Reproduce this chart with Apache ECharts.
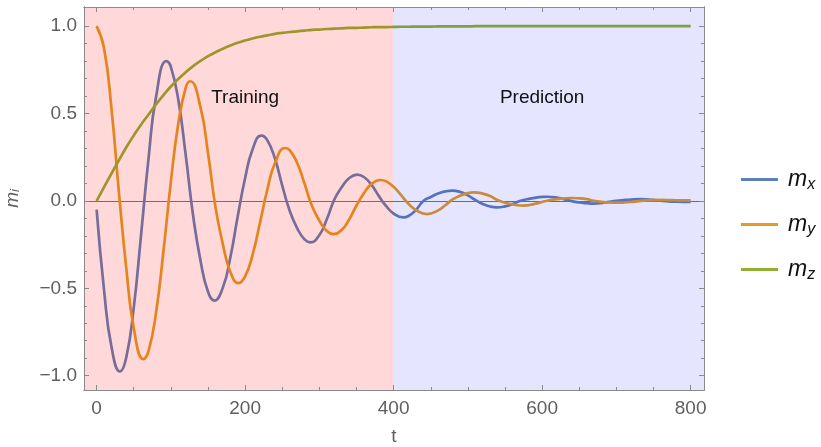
<!DOCTYPE html>
<html lang="en">
<head>
    <meta charset="UTF-8">
    <title>m_i vs t</title>
    <script src="https://cdn.jsdelivr.net/npm/echarts@6/dist/echarts.min.js"></script>
    <style>
        html, body { margin: 0; padding: 0; background: #fff; }
    </style>
</head>
<body>
    <div id="main" style="width: 821px;height:447px;"></div>
    <script type="text/javascript">
        // m_x samples (t, value), extrema included
        const mxT = [0, 10, 20, 31.5, 40, 50, 60, 70, 80, 94,
            100, 110, 120, 130, 140, 150, 158.5, 170, 180, 190,
            200, 210, 222, 230, 240, 250, 260, 270, 280, 288,
            300, 310, 320, 330, 340, 351, 360, 370, 380, 390,
            400, 413, 420, 430, 440, 450, 460, 470, 479, 490,
            500, 510, 520, 530, 539, 550, 560, 570, 580, 590,
            600, 607, 620, 630, 640, 650, 660, 669, 680, 690,
            700, 710, 720, 732, 740, 750, 760, 770, 780, 790, 800];
        const mxValues = [-0.05, -0.51, -0.835, -0.976, -0.895, -0.611, -0.188, 0.247, 0.595, 0.80,
            0.767, 0.579, 0.262, -0.085, -0.344, -0.52, -0.57, -0.496, -0.325, -0.089,
            0.131, 0.295, 0.374, 0.347, 0.245, 0.088, -0.056, -0.155, -0.22, -0.237,
            -0.195, -0.105, 0.007, 0.078, 0.13, 0.151, 0.137, 0.093, 0.029, -0.03,
            -0.072, -0.094, -0.086, -0.052, 0.0, 0.023, 0.043, 0.055, 0.059, 0.051,
            0.032, 0.006, -0.017, -0.032, -0.037, -0.031, -0.018, 0.0, 0.01, 0.018,
            0.023, 0.024, 0.019, 0.009, -0.001, -0.009, -0.013, -0.015, -0.012, -0.005,
            0.001, 0.005, 0.008, 0.01, 0.009, 0.006, 0.002, -0.002, -0.004, -0.005, -0.005];

        // m_y samples
        const myT = [0, 10, 20, 30, 40, 50, 63, 70, 80, 90,
            100, 110, 120, 126, 140, 150, 160, 170, 180, 191,
            200, 210, 220, 230, 240, 254, 260, 270, 280, 290,
            300, 310, 319, 330, 340, 350, 360, 370, 382, 390,
            400, 410, 420, 430, 445, 460, 470, 480, 490, 500,
            508, 520, 530, 540, 550, 560, 575, 590, 600, 610,
            620, 630, 640, 650, 660, 670, 680, 690, 701, 710,
            720, 730, 740, 750, 763, 770, 780, 790, 800];
        const myValues = [1.0, 0.874, 0.529, 0.051, -0.387, -0.727, -0.905, -0.858, -0.64, -0.288,
            0.111, 0.443, 0.649, 0.685, 0.534, 0.274, -0.034, -0.248, -0.405, -0.47,
            -0.432, -0.309, -0.125, 0.067, 0.214, 0.303, 0.291, 0.219, 0.099, -0.028,
            -0.113, -0.172, -0.19, -0.166, -0.107, -0.026, 0.044, 0.096, 0.12, 0.112,
            0.081, 0.033, -0.016, -0.052, -0.075, -0.054, -0.023, 0.01, 0.031, 0.045,
            0.049, 0.042, 0.028, 0.005, -0.01, -0.02, -0.027, -0.017, -0.006, 0.004,
            0.01, 0.015, 0.017, 0.015, 0.01, 0.001, -0.005, -0.009, -0.01, -0.009,
            -0.006, -0.001, 0.003, 0.005, 0.006, 0.005, 0.004, 0.003, 0.003];

        // m_z samples (every 10)
        const mzT = [0, 10, 20, 30, 40, 50, 60, 70, 80, 90,
            100, 110, 120, 130, 140, 150, 160, 170, 180, 190,
            200, 210, 220, 230, 240, 250, 260, 270, 280, 290,
            300, 310, 320, 330, 340, 350, 360, 370, 380, 390,
            400, 410, 420, 430, 440, 450, 460, 470, 480, 490,
            500, 510, 520, 530, 540, 550, 560, 570, 580, 590,
            600, 610, 620, 630, 640, 650, 660, 670, 680, 690,
            700, 710, 720, 730, 740, 750, 760, 770, 780, 790, 800];
        const mzValues = [0.0, 0.079, 0.157, 0.233, 0.307, 0.375, 0.438, 0.495, 0.553, 0.606,
            0.655, 0.698, 0.737, 0.772, 0.802, 0.828, 0.851, 0.871, 0.889, 0.905,
            0.918, 0.93, 0.94, 0.948, 0.956, 0.962, 0.967, 0.971, 0.975, 0.979,
            0.981, 0.984, 0.986, 0.988, 0.99, 0.991, 0.992, 0.994, 0.995, 0.995,
            0.996, 0.997, 0.997, 0.998, 0.998, 0.998, 0.999, 0.999, 0.999, 0.999,
            0.999, 1.0, 1.0, 1.0, 1.0, 1.0, 1.0, 1.0, 1.0, 1.0,
            1.0, 1.0, 1.0, 1.0, 1.0, 1.0, 1.0, 1.0, 1.0, 1.0,
            1.0, 1.0, 1.0, 1.0, 1.0, 1.0, 1.0, 1.0, 1.0, 1.0, 1.0];

        const seriesNames = ['mx', 'my', 'mz'];
        const seriesColors = ['#5E81B5', '#E19C24', '#8FB032'];

        // tick labels / positions
        const xMajor = [0, 200, 400, 600, 800];
        const xMinor = [50, 100, 150, 250, 300, 350, 450, 500, 550, 650, 700, 750];
        const yMajor = [-1.0, -0.5, 0.0, 0.5, 1.0];
        const yMinor = [-0.9, -0.8, -0.7, -0.6, -0.4, -0.3, -0.2, -0.1,
            0.1, 0.2, 0.3, 0.4, 0.6, 0.7, 0.8, 0.9];

        const regionLabels = [['Training', 200, 0.59], ['Prediction', 600, 0.59]];

        const xMin = -17, xMax = 818, yMin = -1.082, yMax = 1.11;
        const frameColor = '#8a8a8a';
        const labelColor = '#5f5f5f';
        const font = 'Liberation Sans';

        function zip(xs, ys) {
            return xs.map((x, i) => [x, ys[i]]);
        }

        function xAx(pos, ticks, len, labels) {
            return {
                type: 'value', position: pos, min: xMin, max: xMax, z: 10,
                axisLine: { show: true, onZero: false, lineStyle: { color: frameColor, width: 1 } },
                axisTick: { show: true, inside: true, length: len, customValues: ticks,
                    lineStyle: { color: frameColor, width: 1 } },
                axisLabel: { show: labels, customValues: ticks, margin: 9,
                    color: labelColor, fontSize: 19, fontFamily: font },
                splitLine: { show: false }
            };
        }

        function yAx(pos, ticks, len, labels) {
            return {
                type: 'value', position: pos, min: yMin, max: yMax, z: 10,
                axisLine: { show: true, onZero: false, lineStyle: { color: frameColor, width: 1 } },
                axisTick: { show: true, inside: true, length: len, customValues: ticks,
                    lineStyle: { color: frameColor, width: 1 } },
                axisLabel: { show: labels, customValues: ticks, margin: 7,
                    color: labelColor, fontSize: 19, fontFamily: font,
                    formatter: v => v.toFixed(1).replace('-', '\u2212') },
                splitLine: { show: false }
            };
        }

        const xAxes = [xAx('bottom', xMajor, 5, true), xAx('bottom', xMinor, 3, false),
            xAx('top', xMajor, 5, false), xAx('top', xMinor, 3, false)];
        xAxes[0].name = 't';
        xAxes[0].nameLocation = 'middle';
        xAxes[0].nameGap = 37;
        xAxes[0].nameTextStyle = { color: labelColor, fontSize: 19, fontFamily: font };

        const yAxes = [yAx('left', yMajor, 5, true), yAx('left', yMinor, 3, false),
            yAx('right', yMajor, 5, false), yAx('right', yMinor, 3, false)];
        yAxes[0].name = '{m|m}{s|i}';
        yAxes[0].nameLocation = 'middle';
        yAxes[0].nameRotate = 90;
        yAxes[0].nameGap = 62;
        yAxes[0].nameTextStyle = {
            color: labelColor, fontFamily: font,
            rich: {
                m: { fontSize: 19, fontStyle: 'italic', color: labelColor, fontFamily: font },
                s: { fontSize: 13, fontStyle: 'italic', color: labelColor, fontFamily: font,
                    verticalAlign: 'bottom', lineHeight: 13 }
            }
        };

        const lineSeries = [[mxT, mxValues], [myT, myValues], [mzT, mzValues]].map((d, i) => ({
            name: seriesNames[i],
            type: 'line',
            data: zip(d[0], d[1]),
            smooth: 0.5,
            showSymbol: false,
            z: 2,
            lineStyle: { color: seriesColors[i], width: 2.7 },
            itemStyle: { color: seriesColors[i] }
        }));

        const option = {
            animation: false,
            backgroundColor: '#ffffff',
            grid: { left: 84, top: 7, width: 620, height: 383, containLabel: false, outerBoundsMode: 'none' },
            xAxis: xAxes,
            yAxis: yAxes,
            legend: {
                orient: 'vertical',
                left: 736, top: 163,
                itemWidth: 37, itemHeight: 3, itemGap: 20,
                icon: 'rect',
                data: seriesNames,
                formatter: name => '{m|m}{s|' + name[1] + '}',
                textStyle: {
                    padding: [0, 0, 0, 5],
                    rich: {
                        m: { fontSize: 23, fontStyle: 'italic', color: '#111', fontFamily: font, lineHeight: 27 },
                        s: { fontSize: 16, fontStyle: 'italic', color: '#111', fontFamily: font,
                            verticalAlign: 'bottom' }
                    }
                }
            },
            series: [
                {
                    name: 'zero', type: 'line', data: [], z: 1, silent: true,
                    markLine: {
                        silent: true, symbol: 'none', z: 1,
                        label: { show: false },
                        lineStyle: { color: '#777', width: 1, type: 'solid' },
                        data: [{ yAxis: 0 }]
                    }
                },
                ...lineSeries,
                {
                    name: 'regions', type: 'line', data: [], z: 4, silent: true,
                    markArea: {
                        silent: true, z: 4,
                        data: [
                            [{ coord: [xMin, yMin], itemStyle: { color: 'rgba(255,0,0,0.15)', opacity: 1 } },
                             { coord: [400, yMax] }],
                            [{ coord: [400, yMin], itemStyle: { color: 'rgba(0,0,255,0.1)', opacity: 1 } },
                             { coord: [xMax, yMax] }]
                        ]
                    },
                    markPoint: {
                        silent: true, z: 6,
                        symbol: 'circle', symbolSize: 0,
                        label: { show: true, position: 'inside', color: '#111', fontSize: 19, fontFamily: font,
                            formatter: p => p.name },
                        data: regionLabels.map(r => ({ name: r[0], coord: [r[1], r[2]] }))
                    }
                }
            ]
        };

        let myChart = echarts.init(document.getElementById('main'));
        myChart.setOption(option);
    </script>
</body>
</html>
